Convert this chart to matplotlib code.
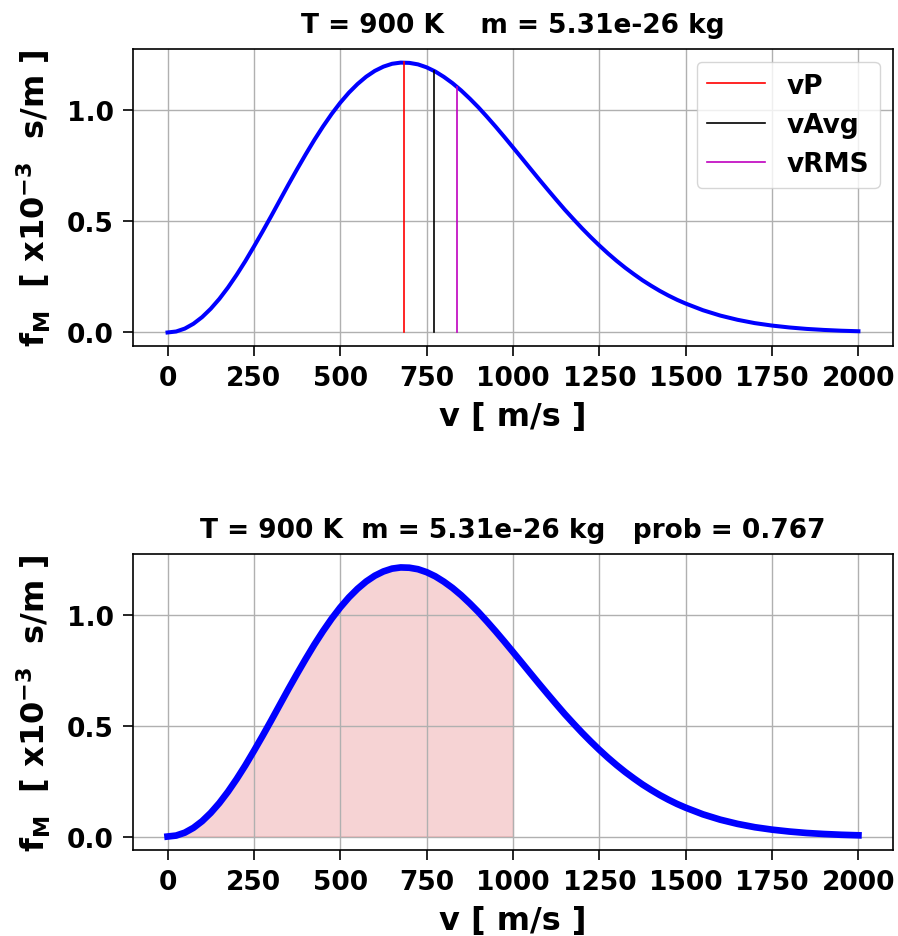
import matplotlib
matplotlib.use("Agg")
import matplotlib.pyplot as plt

# speeds [m/s] and Maxwell distribution values [x1e-3 s/m]
v = [0, 25, 50, 75, 100, 125, 150, 175, 200, 225, 250, 275, 300, 325, 350,
     375, 400, 425, 450, 475, 500, 525, 550, 575, 600, 625, 650, 675, 700,
     725, 750, 775, 800, 825, 850, 875, 900, 925, 950, 975, 1000, 1025, 1050,
     1075, 1100, 1125, 1150, 1175, 1200, 1225, 1250, 1275, 1300, 1325, 1350,
     1375, 1400, 1425, 1450, 1475, 1500, 1550, 1600, 1650, 1700, 1750, 1800,
     1850, 1900, 1950, 2000]
fM = [0.0, 0.0044, 0.0175, 0.0392, 0.069, 0.1065, 0.151, 0.2022, 0.259, 0.3203,
      0.386, 0.4535, 0.523, 0.5941, 0.665, 0.734, 0.801, 0.8656, 0.926, 0.9821,
      1.033, 1.0782, 1.117, 1.1499, 1.176, 1.1952, 1.208, 1.2133, 1.212,
      1.2053, 1.192, 1.1733, 1.149, 1.1207, 1.088, 1.0513, 1.012, 0.9693, 0.925,
      0.8791, 0.832, 0.7847, 0.737, 0.6896, 0.643, 0.5971, 0.552, 0.5095, 0.468,
      0.4286, 0.391, 0.3554, 0.322, 0.2908, 0.262, 0.2346, 0.210, 0.1869, 0.166,
      0.1469, 0.130, 0.100, 0.076, 0.057, 0.042, 0.031, 0.0225, 0.016, 0.0114,
      0.0079, 0.0055]

# characteristic speeds and curve height there
v_marks = [684, 772, 838]
f_marks = [1.214, 1.176, 1.103]
mark_names = ["vP", "vAvg", "vRMS"]
mark_cols = ["r", "k", "m"]

v_hi = 1000  # upper limit of shaded region
prob = 0.767

plt.rcParams["font.weight"] = "bold"
plt.rcParams["mathtext.default"] = "bf"

fig = plt.figure(figsize=(8.98, 9.37), dpi=100)
ax1 = fig.add_axes([0.1481, 0.6297, 0.8463, 0.3170])
ax2 = fig.add_axes([0.1481, 0.0918, 0.8463, 0.3159])

ylab = r"f$_M$  [ x10$^{-3}$  s/m ]"
tick_fs = 19
lab_fs = 23
title_fs = 19

# --- top: distribution with characteristic speeds
ax1.plot(v, fM, color="b", lw=2.9)
for vm, fm, nm, c in zip(v_marks, f_marks, mark_names, mark_cols):
    ax1.plot([vm, vm], [0, fm], color=c, lw=1.2, label=nm)
ax1.set_title("T = 900 K    m = 5.31e-26 kg", fontsize=title_fs, fontweight="bold", pad=12)
ax1.legend(loc="upper right", fontsize=tick_fs, handlelength=2.2)

# --- bottom: shaded probability region
vs = [x for x in v if x <= v_hi]
fs = fM[:len(vs)]
ax2.fill_between(vs, 0, fs, color="#d62728", alpha=0.2)
ax2.plot(v, fM, color="b", lw=4.8)
ax2.set_title(f"T = 900 K  m = 5.31e-26 kg   prob = {prob:.3f}",
              fontsize=title_fs, fontweight="bold", pad=12)

for ax in (ax1, ax2):
    ax.set_xticks([0, 250, 500, 750, 1000, 1250, 1500, 1750, 2000])
    ax.set_yticks([0.0, 0.5, 1.0])
    ax.tick_params(labelsize=tick_fs, length=7, width=1.2, pad=7)
    ax.set_xlabel("v [ m/s ]", fontsize=lab_fs, fontweight="bold", labelpad=7)
    ax.set_ylabel(ylab, fontsize=lab_fs, fontweight="bold", labelpad=10)
    ax.grid(True, lw=1.0)
    for s in ax.spines.values():
        s.set_linewidth(1.2)

fig.savefig("out.png", dpi=100)
